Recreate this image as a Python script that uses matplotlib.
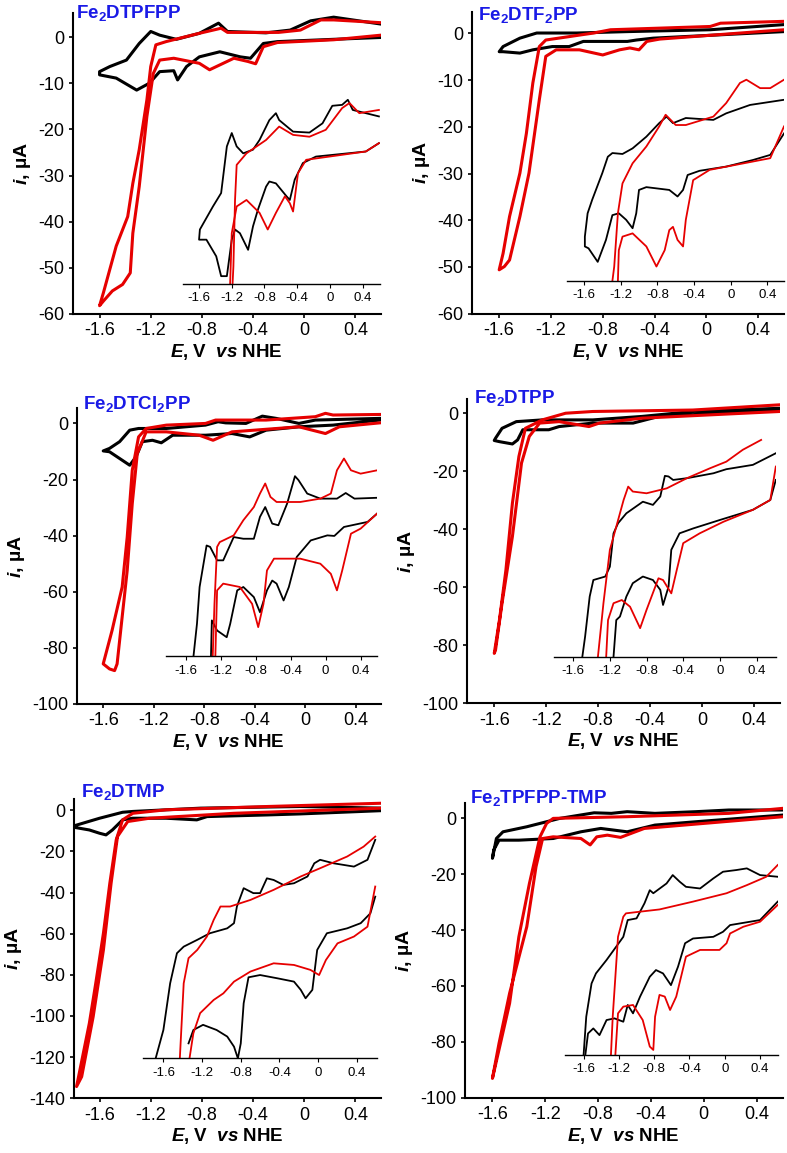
import numpy as np
import matplotlib
matplotlib.use("Agg")
import matplotlib.pyplot as plt

plt.rcParams['font.family'] = ['Liberation Sans', 'DejaVu Sans']
plt.rcParams['mathtext.fontset'] = 'custom'
plt.rcParams['mathtext.rm'] = 'Liberation Sans'
plt.rcParams['mathtext.bf'] = 'Liberation Sans:bold'
plt.rcParams['mathtext.it'] = 'Liberation Sans:italic'
plt.rcParams['mathtext.bfit'] = 'Liberation Sans:italic:bold'
plt.rcParams['axes.unicode_minus'] = False

## ---- data: (E in V vs NHE, i in uA) ----
# Fe2DTPFPP
dtpfpp_black = [(0.6,2.8),(0.23,4.3),(0.05,3.5),(-0.11,1.5),(-0.3,0.9),(-0.6,1.2),(-0.67,3.0),(-0.82,0.8),(-1.0,-0.5),(-1.13,0.4),(-1.2,1.2),(-1.29,-1.4),(-1.39,-5.0),(-1.52,-6.4),(-1.6,-7.5),(-1.6,-8.2),(-1.47,-8.9),(-1.31,-11.5),(-1.21,-10.0),(-1.13,-7.5),(-1.02,-7.3),(-0.99,-9.3),(-0.92,-6.4),(-0.82,-4.3),(-0.66,-3.2),(-0.5,-4.3),(-0.42,-4.6),(-0.32,-1.4),(-0.21,-1.0),(0.23,-0.5),(0.6,-0.1)]
dtpfpp_red = [(0.6,3.1),(0.23,3.7),(0.13,3.7),(-0.03,1.5),(-0.2,1.0),(-0.6,1.0),(-0.65,1.9),(-0.82,0.8),(-1.08,-1.0),(-1.16,-1.7),(-1.2,-6.4),(-1.23,-13.6),(-1.29,-24.4),(-1.34,-31.7),(-1.38,-38.9),(-1.47,-45.3),(-1.57,-55.4),(-1.6,-58.2),(-1.57,-57.2),(-1.5,-55.0),(-1.42,-53.6),(-1.36,-51.1),(-1.34,-42.5),(-1.29,-32.4),(-1.23,-17.2),(-1.18,-7.9),(-1.13,-5.0),(-1.02,-4.6),(-0.82,-5.7),(-0.74,-7.1),(-0.55,-4.6),(-0.44,-5.3),(-0.38,-5.8),(-0.32,-2.1),(-0.21,-1.2),(0.23,-0.6),(0.6,0.4)]
dtpfpp_in_black = [[(0.6,-17.2),(0.28,-15.8),(0.22,-13.6),(0.15,-14.7),(0.03,-14.9),(-0.09,-18.7),(-0.25,-20.7),(-0.45,-20.5),(-0.62,-18.0),(-0.66,-16.5),(-0.74,-18.0),(-0.86,-22.3),(-0.94,-24.4),(-1.06,-25.2),(-1.14,-23.7),(-1.2,-20.8),(-1.26,-23.7),(-1.33,-33.8),(-1.43,-36.7),(-1.59,-41.7),(-1.6,-43.9),(-1.51,-43.9),(-1.39,-47.5),(-1.33,-51.8),(-1.26,-51.8),(-1.2,-43.9),(-1.16,-41.7),(-1.1,-42.5),(-1.0,-46.1),(-0.94,-41.0),(-0.88,-37.4),(-0.78,-32.4),(-0.74,-31.3),(-0.66,-31.7),(-0.53,-34.5),(-0.49,-35.3),(-0.43,-30.9),(-0.33,-27.3),(-0.17,-25.9),(0.44,-24.8),(0.6,-23.0)]]
dtpfpp_in_red = [[(0.6,-15.8),(0.36,-16.5),(0.24,-14.3),(0.15,-15.4),(-0.05,-20.1),(-0.25,-21.6),(-0.45,-21.2),(-0.62,-19.4),(-0.78,-22.3),(-1.02,-25.2),(-1.14,-27.7),(-1.16,-35.3),(-1.18,-49.7),(-1.19,-53.4)],
                 [(-1.22,-53.4),(-1.2,-42.5),(-1.14,-36.7),(-1.02,-35.3),(-0.86,-38.1),(-0.76,-41.7),(-0.66,-38.1),(-0.55,-34.5),(-0.49,-36.0),(-0.45,-37.8),(-0.39,-29.5),(-0.29,-26.6),(0.44,-24.8),(0.6,-23.0)]]

# Fe2DTF2PP
dtf2pp_black = [(0.6,1.9),(0.03,0.8),(-0.61,0.4),(-1.0,0.1),(-1.31,0.1),(-1.44,-1.0),(-1.57,-2.8),(-1.6,-3.9),(-1.57,-3.9),(-1.44,-4.2),(-1.34,-3.5),(-1.19,-2.8),(-1.06,-2.8),(-0.95,-1.7),(-0.61,-1.7),(-0.54,-1.4),(-0.41,-1.0),(0.6,0.4)]
dtf2pp_red = [(0.6,2.6),(0.11,2.2),(0.03,1.5),(-0.74,0.8),(-0.87,0.1),(-1.24,-1.4),(-1.29,-2.8),(-1.34,-10.6),(-1.39,-21.4),(-1.44,-29.9),(-1.52,-39.2),(-1.57,-47.1),(-1.6,-50.6),(-1.56,-49.9),(-1.52,-48.5),(-1.44,-39.2),(-1.37,-29.9),(-1.29,-14.2),(-1.24,-4.9),(-1.16,-3.5),(-0.98,-3.5),(-0.8,-4.6),(-0.67,-3.5),(-0.59,-3.1),(-0.52,-3.5),(-0.46,-1.7),(-0.36,-1.2),(0.6,0.8)]
dtf2pp_in_black = [[(0.58,-14.2),(0.21,-15.3),(-0.05,-17.1),(-0.19,-18.5),(-0.49,-18.1),(-0.63,-19.2),(-0.7,-17.8),(-0.78,-19.2),(-0.92,-22.1),(-1.07,-24.6),(-1.18,-25.8),(-1.29,-25.6),(-1.34,-26.4),(-1.4,-29.9),(-1.51,-35.6),(-1.56,-38.5),(-1.59,-43.5),(-1.59,-45.6),(-1.55,-46.0),(-1.45,-48.9),(-1.36,-44.2),(-1.29,-38.9),(-1.22,-38.5),(-1.14,-39.9),(-1.07,-41.7),(-1.03,-38.5),(-1.0,-33.5),(-0.92,-32.9),(-0.67,-33.5),(-0.58,-34.9),(-0.52,-33.5),(-0.47,-30.3),(-0.34,-29.4),(-0.05,-28.5),(0.24,-27.1),(0.43,-26.0),(0.58,-21.4)]]
dtf2pp_in_red = [[(0.58,-9.9),(0.43,-11.7),(0.32,-11.7),(0.17,-9.9),(0.1,-10.6),(-0.05,-14.9),(-0.19,-17.8),(-0.49,-19.6),(-0.6,-19.6),(-0.71,-17.4),(-0.78,-19.9),(-0.92,-24.2),(-1.07,-27.8),(-1.18,-32.1),(-1.23,-38.5),(-1.27,-49.9),(-1.29,-53.0)],
                 [(-1.23,-53.0),(-1.22,-46.4),(-1.18,-43.5),(-1.07,-42.8),(-0.92,-45.6),(-0.81,-49.9),(-0.72,-46.4),(-0.67,-42.1),(-0.63,-41.4),(-0.58,-44.2),(-0.52,-45.6),(-0.49,-39.9),(-0.41,-31.4),(-0.23,-29.2),(0.14,-27.8),(0.43,-26.7),(0.58,-19.9)]]

# Fe2DTCl2PP
dtcl2pp_black = [(0.59,1.8),(0.08,1.2),(-0.05,0.0),(-0.23,1.8),(-0.34,2.6),(-0.47,0.0),(-0.63,0.2),(-0.69,0.6),(-0.79,-0.6),(-1.1,-1.8),(-1.32,-1.8),(-1.39,-2.4),(-1.47,-6.5),(-1.55,-8.9),(-1.6,-9.8),(-1.55,-10.1),(-1.47,-12.5),(-1.39,-14.9),(-1.34,-11.9),(-1.29,-6.5),(-1.21,-6.0),(-1.14,-6.9),(-1.05,-4.2),(-0.79,-4.2),(-0.58,-3.6),(-0.44,-4.8),(-0.31,-2.4),(-0.05,-1.2),(0.22,-0.6),(0.59,1.2)]
dtcl2pp_red = [(0.59,3.2),(0.22,3.0),(0.16,3.6),(0.08,2.4),(-0.31,1.2),(-0.71,1.2),(-0.79,0.0),(-1.1,-0.6),(-1.26,-1.8),(-1.32,-4.8),(-1.37,-16.7),(-1.41,-40.5),(-1.45,-58.3),(-1.53,-73.8),(-1.6,-85.7),(-1.55,-87.5),(-1.51,-88.1),(-1.49,-85.7),(-1.45,-69.0),(-1.41,-52.4),(-1.37,-28.6),(-1.33,-10.7),(-1.26,-3.0),(-1.1,-3.0),(-0.84,-4.2),(-0.73,-6.0),(-0.58,-3.0),(-0.05,-1.2),(0.16,-3.6),(0.27,-1.2),(0.59,0.2)]
dtcl2pp_in_black = [[(0.59,-26.5),(0.33,-26.8),(0.23,-24.8),(0.13,-26.8),(-0.06,-26.8),(-0.21,-25.0),(-0.31,-20.2),(-0.35,-18.8),(-0.44,-28.6),(-0.54,-36.3),(-0.61,-35.7),(-0.69,-29.8),(-0.75,-33.3),(-0.82,-41.1),(-0.94,-41.1),(-1.05,-40.5),(-1.17,-48.8),(-1.24,-48.8),(-1.32,-44.0),(-1.36,-43.5),(-1.44,-58.3),(-1.47,-71.4),(-1.51,-83.0)],
                    [(-1.31,-83.0),(-1.3,-70.2),(-1.24,-73.8),(-1.13,-76.2),(-1.09,-71.4),(-1.01,-59.5),(-0.94,-58.3),(-0.82,-61.9),(-0.75,-67.3),(-0.67,-59.5),(-0.61,-56.0),(-0.56,-57.1),(-0.48,-63.1),(-0.42,-58.3),(-0.33,-47.6),(-0.17,-41.7),(0.02,-39.9),(0.1,-40.1),(0.21,-36.9),(0.48,-35.1),(0.59,-32.1)]]
dtcl2pp_in_red = [[(0.59,-16.7),(0.4,-17.9),(0.29,-16.7),(0.21,-12.5),(0.13,-16.7),(0.06,-25.0),(-0.06,-26.8),(-0.29,-28.0),(-0.56,-28.0),(-0.63,-26.2),(-0.69,-21.4),(-0.75,-25.0),(-0.82,-29.8),(-0.94,-34.5),(-1.05,-39.9),(-1.21,-42.3),(-1.24,-44.0),(-1.27,-64.3),(-1.29,-83.0)],
                  [(-1.26,-83.0),(-1.24,-59.5),(-1.17,-57.1),(-0.98,-58.3),(-0.84,-64.3),(-0.77,-72.6),(-0.71,-64.3),(-0.67,-52.4),(-0.59,-48.2),(-0.29,-48.2),(-0.06,-50.0),(0.06,-53.6),(0.13,-59.5),(0.19,-52.4),(0.29,-39.3),(0.4,-37.5),(0.59,-32.1)]]

# Fe2DTPP
dtpp_black = [(0.6,1.7),(-0.07,0.6),(-0.46,-1.1),(-0.84,-2.3),(-1.23,-2.3),(-1.43,-2.9),(-1.54,-5.2),(-1.59,-8.6),(-1.6,-9.4),(-1.56,-9.8),(-1.46,-10.6),(-1.42,-9.2),(-1.38,-5.7),(-1.18,-5.7),(-1.1,-4.6),(-0.84,-3.4),(-0.53,-3.4),(-0.33,-1.1),(0.6,1.1)]
dtpp_red = [(0.6,2.9),(-0.07,1.1),(-0.84,0.6),(-1.05,0.0),(-1.23,-2.3),(-1.36,-5.2),(-1.41,-14.9),(-1.46,-31.0),(-1.51,-54.0),(-1.56,-71.3),(-1.6,-82.8),(-1.59,-81.6),(-1.54,-65.5),(-1.46,-42.5),(-1.39,-17.2),(-1.33,-8.0),(-1.25,-3.4),(-1.1,-2.9),(-0.87,-4.6),(-0.79,-3.4),(-0.46,-1.7),(0.6,0.6)]
dtpp_in_black = [[(0.61,-13.8),(0.36,-17.8),(0.07,-19.3),(-0.07,-20.7),(-0.36,-22.4),(-0.51,-23.0),(-0.56,-21.8),(-0.6,-21.6),(-0.65,-28.7),(-0.73,-31.6),(-0.84,-30.5),(-1.02,-34.5),(-1.11,-37.9),(-1.16,-41.4),(-1.2,-52.9),(-1.25,-56.3),(-1.38,-57.5),(-1.42,-63.2),(-1.47,-77.0),(-1.5,-83.9)],
                 [(-1.16,-83.9),(-1.13,-71.3),(-1.09,-70.1),(-1.02,-63.2),(-0.95,-58.6),(-0.84,-56.3),(-0.73,-57.5),(-0.65,-60.9),(-0.62,-66.1),(-0.56,-59.8),(-0.53,-47.1),(-0.44,-41.4),(-0.29,-39.7),(0.0,-36.8),(0.36,-33.3),(0.55,-29.9),(0.61,-23.0)]]
dtpp_in_red = [[(0.45,-9.2),(0.25,-12.6),(0.07,-16.7),(-0.11,-19.0),(-0.36,-22.4),(-0.58,-25.9),(-0.8,-27.6),(-0.95,-27.0),(-1.0,-25.3),(-1.05,-29.9),(-1.13,-39.1),(-1.2,-47.1),(-1.27,-65.5),(-1.33,-83.9)],
               [(-1.24,-83.9),(-1.22,-71.3),(-1.16,-65.5),(-1.07,-64.4),(-0.98,-66.7),(-0.87,-74.1),(-0.8,-67.8),(-0.67,-56.9),(-0.62,-57.5),(-0.53,-62.1),(-0.47,-54.0),(-0.4,-44.8),(-0.22,-41.4),(0.04,-37.4),(0.36,-33.3),(0.55,-29.9),(0.61,-18.4)]]

# Fe2DTMP
dtmp_black = [(0.61,1.0),(-0.03,1.8),(-0.81,1.0),(-1.34,-0.6),(-1.42,-1.0),(-1.6,-3.9),(-1.8,-7.6),(-1.8,-8.3),(-1.68,-9.6),(-1.6,-11.2),(-1.55,-12.0),(-1.5,-9.6),(-1.42,-4.7),(-1.34,-3.9),(-1.08,-3.9),(-0.84,-4.7),(-0.76,-3.1),(-0.29,-2.3),(-0.03,-1.8),(0.61,-0.2)]
dtmp_red = [(0.61,3.4),(-0.29,1.8),(-1.08,0.2),(-1.34,-1.5),(-1.42,-4.7),(-1.47,-14.4),(-1.52,-35.5),(-1.57,-59.8),(-1.63,-84.1),(-1.68,-103.5),(-1.78,-134.3),(-1.74,-129.5),(-1.65,-100.3),(-1.57,-67.9),(-1.51,-35.5),(-1.46,-12.8),(-1.38,-5.5),(-1.21,-3.9),(-0.55,-1.5),(0.61,1.0)]
dtmp_in_black = [[(0.59,-14.4),(0.51,-24.1),(0.37,-27.4),(0.16,-25.8),(0.02,-24.1),(-0.04,-25.8),(-0.11,-32.2),(-0.25,-35.5),(-0.36,-36.3),(-0.46,-33.9),(-0.53,-33.1),(-0.6,-40.3),(-0.67,-40.3),(-0.77,-37.9),(-0.84,-46.8),(-0.87,-54.9),(-0.94,-57.4),(-1.12,-59.8),(-1.25,-63.0),(-1.39,-66.3),(-1.46,-69.5),(-1.53,-84.1),(-1.6,-106.8),(-1.68,-120.6)],
                 [(-1.34,-113.3),(-1.29,-106.8),(-1.19,-104.3),(-1.05,-106.8),(-0.94,-110.0),(-0.87,-114.9),(-0.83,-120.6),(-0.8,-113.3),(-0.77,-93.8),(-0.72,-81.2),(-0.6,-80.1),(-0.42,-81.7),(-0.25,-83.3),(-0.18,-87.3),(-0.13,-91.4),(-0.06,-87.3),(-0.01,-67.9),(0.09,-59.8),(0.3,-57.4),(0.44,-54.9),(0.54,-50.1),(0.59,-42.0)]]
dtmp_in_red = [[(0.59,-12.8),(0.47,-17.7),(0.3,-22.5),(0.02,-28.2),(-0.18,-32.2),(-0.46,-38.7),(-0.7,-43.6),(-0.91,-46.8),(-1.01,-46.8),(-1.08,-53.3),(-1.15,-61.4),(-1.25,-67.9),(-1.34,-71.9),(-1.39,-84.1),(-1.43,-120.6)],
               [(-1.33,-120.6),(-1.29,-108.4),(-1.22,-98.6),(-1.08,-92.2),(-0.98,-89.0),(-0.87,-83.3),(-0.7,-78.4),(-0.46,-74.4),(-0.25,-75.2),(-0.08,-77.6),(0.01,-80.1),(0.08,-72.8),(0.2,-64.7),(0.37,-61.4),(0.51,-56.6),(0.59,-37.1)]]

# Fe2TPFPP-TMP
tpfpp_tmp_black = [(0.6,3.0),(0.19,3.0),(-0.06,2.4),(-0.37,1.8),(-0.58,2.4),(-0.7,1.8),(-0.83,2.0),(-1.09,0.0),(-1.34,-3.0),(-1.52,-4.8),(-1.57,-7.2),(-1.6,-14.3),(-1.59,-11.3),(-1.55,-7.8),(-1.4,-7.8),(-1.14,-7.2),(-0.93,-4.8),(-0.78,-3.6),(-0.58,-4.8),(-0.37,-2.4),(-0.06,-1.2),(0.6,1.2)]
tpfpp_tmp_red = [(0.6,3.6),(0.19,1.8),(-0.58,0.6),(-1.14,0.0),(-1.19,-1.8),(-1.24,-6.6),(-1.32,-23.3),(-1.4,-42.4),(-1.47,-66.2),(-1.6,-93.1),(-1.55,-80.5),(-1.47,-62.6),(-1.34,-38.8),(-1.27,-17.3),(-1.22,-7.2),(-1.14,-6.6),(-0.93,-7.2),(-0.86,-9.5),(-0.81,-6.6),(-0.73,-6.0),(-0.63,-6.8),(-0.45,-3.6),(0.6,0.6)]
tpfpp_tmp_in_black = [[(0.6,-20.9),(0.4,-20.3),(0.25,-17.9),(0.13,-18.5),(-0.02,-19.1),(-0.13,-21.5),(-0.28,-25.1),(-0.44,-24.5),(-0.51,-22.7),(-0.59,-20.3),(-0.66,-23.3),(-0.81,-26.8),(-0.85,-25.7),(-0.91,-30.4),(-1.0,-35.8),(-1.1,-36.4),(-1.15,-42.4),(-1.23,-45.9),(-1.34,-50.7),(-1.46,-55.5),(-1.51,-59.1),(-1.57,-71.0),(-1.6,-84.6)],
                      [(-1.58,-84.6),(-1.55,-77.0),(-1.49,-75.2),(-1.42,-77.6),(-1.34,-72.2),(-1.25,-71.6),(-1.15,-72.8),(-1.1,-66.8),(-1.04,-69.8),(-0.96,-63.8),(-0.85,-56.7),(-0.78,-54.3),(-0.7,-55.5),(-0.61,-59.7),(-0.53,-53.1),(-0.45,-44.7),(-0.36,-43.0),(-0.13,-42.4),(-0.02,-40.6),(0.06,-38.2),(0.4,-36.4),(0.6,-29.8)]]
tpfpp_tmp_in_red = [[(0.6,-16.7),(0.47,-20.9),(0.25,-23.9),(0.02,-26.8),(-0.36,-29.8),(-0.74,-32.6),(-0.96,-33.4),(-1.12,-34.0),(-1.15,-35.2),(-1.21,-42.4),(-1.27,-71.0),(-1.29,-84.6)],
                    [(-1.24,-84.6),(-1.21,-69.8),(-1.15,-67.4),(-1.04,-66.8),(-0.93,-72.2),(-0.85,-81.7),(-0.81,-82.9),(-0.79,-71.0),(-0.74,-63.2),(-0.68,-63.8),(-0.62,-68.6),(-0.55,-63.8),(-0.44,-49.5),(-0.28,-47.1),(-0.06,-47.1),(0.02,-44.7),(0.06,-41.2),(0.21,-38.8),(0.4,-37.0),(0.6,-31.0)]]

titles = ['Fe$_\\mathbf{2}$DTPFPP', 'Fe$_\\mathbf{2}$DTF$_\\mathbf{2}$PP', 'Fe$_\\mathbf{2}$DTCl$_\\mathbf{2}$PP',
          'Fe$_\\mathbf{2}$DTPP', 'Fe$_\\mathbf{2}$DTMP', 'Fe$_\\mathbf{2}$TPFPP-TMP']
xticks = [-1.6, -1.2, -0.8, -0.4, 0, 0.4]
xticklabels = ['-1.6', '-1.2', '-0.8', '-0.4', '0', '0.4']

RED = '#e60000'
BLUE = '#1a1ae6'
W, H = 787, 1153

# layout (pixels): axes box, ylim, yticks, title pos, inset box in data units, inset xlim
panels = [
    dict(box=(72.7, 13, 381, 314), xlim=(-1.81, 0.6), ylim=(-60, 5.2), yt=np.arange(-60, 1, 10), tpos=(0.01, 0.985),
         inset=(-0.95, 0.59, -53.4), ixlim=(-1.8, 0.61), black=dtpfpp_black, red=dtpfpp_red, ib=dtpfpp_in_black, ir=dtpfpp_in_red),
    dict(box=(472, 12, 784, 313.7), xlim=(-1.81, 0.6), ylim=(-60, 4.6), yt=np.arange(-60, 1, 10), tpos=(0.02, 0.972),
         inset=(-1.08, 0.6, -53.0), ixlim=(-1.79, 0.58), black=dtf2pp_black, red=dtf2pp_red, ib=dtf2pp_in_black, ir=dtf2pp_in_red),
    dict(box=(76.7, 408, 381, 704), xlim=(-1.81, 0.6), ylim=(-100, 5.5), yt=np.arange(-100, 1, 20), tpos=(0.02, 0.995),
         inset=(-1.10, 0.57, -83.0), ixlim=(-1.82, 0.59), black=dtcl2pp_black, red=dtcl2pp_red, ib=dtcl2pp_in_black, ir=dtcl2pp_in_red),
    dict(box=(467, 399.3, 779.7, 703.3), xlim=(-1.81, 0.6), ylim=(-100, 4.8), yt=np.arange(-100, 1, 20), tpos=(0.022, 0.987),
         inset=(-1.14, 0.57, -83.9), ixlim=(-1.81, 0.61), black=dtpp_black, red=dtpp_red, ib=dtpp_in_black, ir=dtpp_in_red),
    dict(box=(74, 799.3, 381, 1098.3), xlim=(-1.8, 0.6), ylim=(-140, 5.3), yt=np.arange(-140, 1, 20), tpos=(0.023, 1.009),
         inset=(-1.26, 0.57, -120.6), ixlim=(-1.81, 0.61), black=dtmp_black, red=dtmp_red, ib=dtmp_in_black, ir=dtmp_in_red),
    dict(box=(464.7, 803.3, 783, 1097.7), xlim=(-1.81, 0.6), ylim=(-100, 5.4), yt=np.arange(-100, 1, 20), tpos=(0.016, 1.0),
         inset=(-1.05, 0.56, -84.6), ixlim=(-1.81, 0.6), black=tpfpp_tmp_black, red=tpfpp_tmp_red, ib=tpfpp_tmp_in_black, ir=tpfpp_tmp_in_red),
]

fig = plt.figure(figsize=(W / 100, H / 100), dpi=100)

for p, title in zip(panels, titles):
    l, t, r, b = p['box']
    ax = fig.add_axes([l / W, 1 - b / H, (r - l) / W, (b - t) / H])
    for s in ['top', 'right']:
        ax.spines[s].set_visible(False)
    for s in ['left', 'bottom']:
        ax.spines[s].set_linewidth(1.5)
    ax.set_xlim(*p['xlim'])
    ax.set_ylim(*p['ylim'])
    ax.set_xticks(xticks)
    ax.set_xticklabels(xticklabels)
    ax.set_yticks(p['yt'])
    ax.set_yticklabels([str(int(v)) for v in p['yt']])
    ax.tick_params(direction='out', length=3, width=1.2, labelsize=13, pad=3)
    ax.set_xlabel(r'$\mathbfit{E}$, V  $\mathbfit{vs}$ NHE', fontsize=13.5, fontweight='bold', labelpad=2)
    ax.set_ylabel(r'$\mathbfit{i}$, µA', fontsize=14, fontweight='bold', labelpad=4)

    bl = np.array(p['black'])
    rd = np.array(p['red'])
    ax.plot(bl[:, 0], bl[:, 1], color='black', lw=2.2, solid_joinstyle='round')
    ax.plot(rd[:, 0], rd[:, 1], color=RED, lw=2.2, solid_joinstyle='round')
    ax.text(p['tpos'][0], p['tpos'][1], title, transform=ax.transAxes, color=BLUE,
            fontsize=13.5, fontweight='bold', va='baseline', ha='left')

    # inset, y in the same uA units as the main axes
    x0, x1, y0 = p['inset']
    ytop = p['ylim'][1]
    ins = ax.inset_axes([x0, y0, x1 - x0, ytop - y0], transform=ax.transData)
    ins.patch.set_alpha(0)
    for s in ['top', 'right', 'left']:
        ins.spines[s].set_visible(False)
    ins.spines['bottom'].set_linewidth(1.0)
    ins.set_xlim(*p['ixlim'])
    ins.set_ylim(y0, ytop)
    ins.set_yticks([])
    ins.set_xticks(xticks)
    ins.set_xticklabels(xticklabels)
    ins.tick_params(direction='out', length=3, width=0.8, labelsize=9.5, pad=3)
    for seg in p['ib']:
        a = np.array(seg)
        ins.plot(a[:, 0], a[:, 1], color='black', lw=1.3, solid_joinstyle='round')
    for seg in p['ir']:
        a = np.array(seg)
        ins.plot(a[:, 0], a[:, 1], color=RED, lw=1.3, solid_joinstyle='round')

fig.savefig('out.png', dpi=100)
